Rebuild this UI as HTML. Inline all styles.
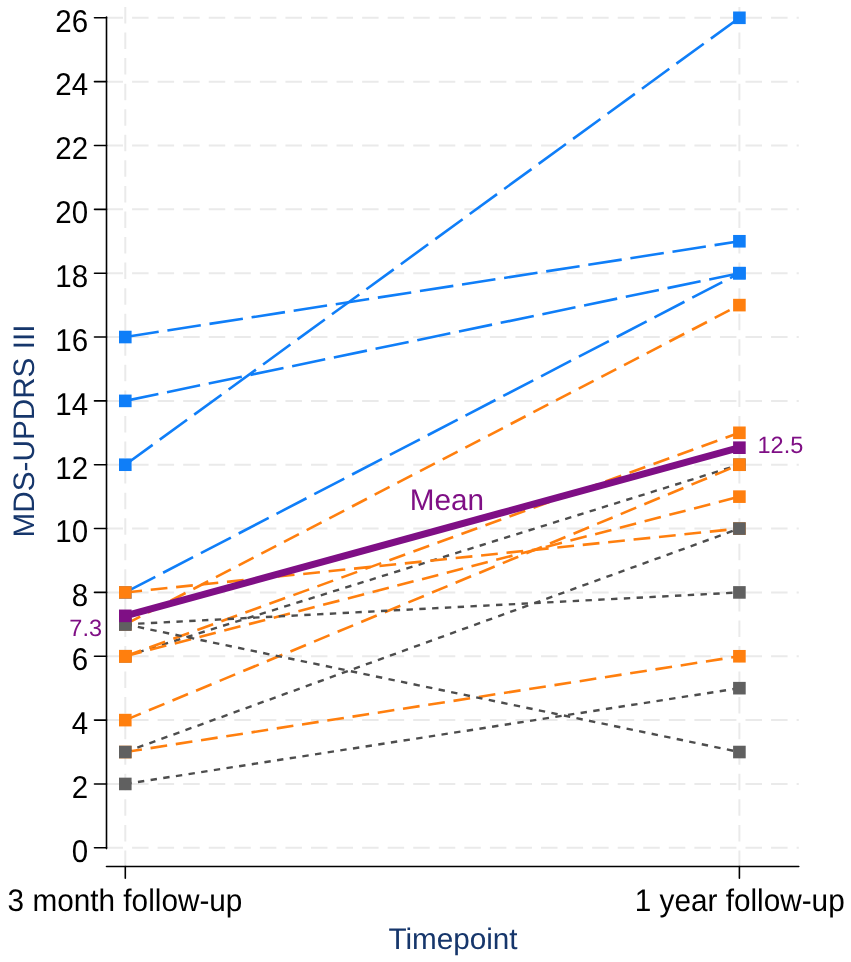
<!DOCTYPE html>
<html><head><meta charset="utf-8"><title>chart</title>
<style>
html,body{margin:0;padding:0;background:#fff;}
body{width:851px;height:962px;overflow:hidden;}
svg{display:block;will-change:transform;}
text{text-rendering:geometricPrecision;}
text{font-family:"Liberation Sans",sans-serif;}
</style></head><body>
<svg width="851" height="962" viewBox="0 0 851 962">
<rect width="851" height="962" fill="#ffffff"/>
<g stroke="#eaeaea" stroke-width="2" stroke-dasharray="16.5 9.06" fill="none">
<line x1="106.5" y1="847.80" x2="798.8" y2="847.80"/>
<line x1="106.5" y1="783.95" x2="798.8" y2="783.95"/>
<line x1="106.5" y1="720.11" x2="798.8" y2="720.11"/>
<line x1="106.5" y1="656.26" x2="798.8" y2="656.26"/>
<line x1="106.5" y1="592.42" x2="798.8" y2="592.42"/>
<line x1="106.5" y1="528.57" x2="798.8" y2="528.57"/>
<line x1="106.5" y1="464.72" x2="798.8" y2="464.72"/>
<line x1="106.5" y1="400.88" x2="798.8" y2="400.88"/>
<line x1="106.5" y1="337.03" x2="798.8" y2="337.03"/>
<line x1="106.5" y1="273.19" x2="798.8" y2="273.19"/>
<line x1="106.5" y1="209.34" x2="798.8" y2="209.34"/>
<line x1="106.5" y1="145.49" x2="798.8" y2="145.49"/>
<line x1="106.5" y1="81.65" x2="798.8" y2="81.65"/>
<line x1="106.5" y1="17.80" x2="798.8" y2="17.80"/>
<line x1="125.3" y1="7.0" x2="125.3" y2="866.5"/>
<line x1="739.4" y1="7.0" x2="739.4" y2="866.5"/>
</g>
<g stroke="#000" stroke-width="1.6" fill="none" stroke-linecap="round">
<line x1="106.5" y1="17.00" x2="106.5" y2="848.60"/>
<line x1="94.5" y1="847.80" x2="106.5" y2="847.80"/>
<line x1="94.5" y1="783.95" x2="106.5" y2="783.95"/>
<line x1="94.5" y1="720.11" x2="106.5" y2="720.11"/>
<line x1="94.5" y1="656.26" x2="106.5" y2="656.26"/>
<line x1="94.5" y1="592.42" x2="106.5" y2="592.42"/>
<line x1="94.5" y1="528.57" x2="106.5" y2="528.57"/>
<line x1="94.5" y1="464.72" x2="106.5" y2="464.72"/>
<line x1="94.5" y1="400.88" x2="106.5" y2="400.88"/>
<line x1="94.5" y1="337.03" x2="106.5" y2="337.03"/>
<line x1="94.5" y1="273.19" x2="106.5" y2="273.19"/>
<line x1="94.5" y1="209.34" x2="106.5" y2="209.34"/>
<line x1="94.5" y1="145.49" x2="106.5" y2="145.49"/>
<line x1="94.5" y1="81.65" x2="106.5" y2="81.65"/>
<line x1="94.5" y1="17.80" x2="106.5" y2="17.80"/>
<line x1="106.5" y1="866.5" x2="798.8" y2="866.5"/>
<line x1="125.3" y1="866.5" x2="125.3" y2="878.3"/>
<line x1="739.4" y1="866.5" x2="739.4" y2="878.3"/>
</g>
<g font-size="29.5" fill="#000" text-anchor="end">
<text transform="translate(88.2 861.60) scale(1 1.07)">0</text>
<text transform="translate(88.2 797.75) scale(1 1.07)">2</text>
<text transform="translate(88.2 733.91) scale(1 1.07)">4</text>
<text transform="translate(88.2 670.06) scale(1 1.07)">6</text>
<text transform="translate(88.2 606.22) scale(1 1.07)">8</text>
<text transform="translate(88.2 542.37) scale(1 1.07)">10</text>
<text transform="translate(88.2 478.52) scale(1 1.07)">12</text>
<text transform="translate(88.2 414.68) scale(1 1.07)">14</text>
<text transform="translate(88.2 350.83) scale(1 1.07)">16</text>
<text transform="translate(88.2 286.99) scale(1 1.07)">18</text>
<text transform="translate(88.2 223.14) scale(1 1.07)">20</text>
<text transform="translate(88.2 159.29) scale(1 1.07)">22</text>
<text transform="translate(88.2 95.45) scale(1 1.07)">24</text>
<text transform="translate(88.2 31.60) scale(1 1.07)">26</text>
</g>
<g font-size="29.75" fill="#000" text-anchor="middle">
<text transform="translate(125.0 910.7) scale(1 1.05)">3 month follow-up</text>
<text transform="translate(739.6999999999999 910.7) scale(1 1.05)">1 year follow-up</text>
</g>
<text x="453" y="948.6" font-size="29.7" fill="#16366b" text-anchor="middle">Timepoint</text>
<text transform="translate(33.9 431) rotate(-90)" font-size="29.7" fill="#16366b" text-anchor="middle">MDS-UPDRS III</text>
<line x1="125.3" y1="337.03" x2="739.4" y2="241.26" stroke="#0f7ef8" stroke-width="2.6" stroke-dasharray="33.8 8.8" fill="none"/>
<rect x="119.00" y="330.73" width="12.6" height="12.6" fill="#0f7ef8"/>
<rect x="733.10" y="234.96" width="12.6" height="12.6" fill="#0f7ef8"/>
<line x1="125.3" y1="400.88" x2="739.4" y2="273.19" stroke="#0f7ef8" stroke-width="2.6" stroke-dasharray="33.8 8.8" fill="none"/>
<rect x="119.00" y="394.58" width="12.6" height="12.6" fill="#0f7ef8"/>
<rect x="733.10" y="266.89" width="12.6" height="12.6" fill="#0f7ef8"/>
<line x1="125.3" y1="464.72" x2="739.4" y2="17.80" stroke="#0f7ef8" stroke-width="2.6" stroke-dasharray="33.8 8.8" fill="none"/>
<rect x="119.00" y="458.42" width="12.6" height="12.6" fill="#0f7ef8"/>
<rect x="733.10" y="11.50" width="12.6" height="12.6" fill="#0f7ef8"/>
<line x1="125.3" y1="592.42" x2="739.4" y2="273.19" stroke="#0f7ef8" stroke-width="2.6" stroke-dasharray="33.8 8.8" fill="none"/>
<rect x="119.00" y="586.12" width="12.6" height="12.6" fill="#0f7ef8"/>
<rect x="733.10" y="266.89" width="12.6" height="12.6" fill="#0f7ef8"/>
<line x1="125.3" y1="656.26" x2="739.4" y2="464.72" stroke="#4d4d4d" stroke-width="2.4" stroke-dasharray="6.4 6.4" fill="none"/>
<rect x="119.00" y="649.96" width="12.6" height="12.6" fill="#606060"/>
<rect x="733.10" y="458.42" width="12.6" height="12.6" fill="#606060"/>
<line x1="125.3" y1="592.42" x2="739.4" y2="528.57" stroke="#ff7f0e" stroke-width="2.6" stroke-dasharray="16.8 8.75" fill="none"/>
<rect x="119.00" y="586.12" width="12.6" height="12.6" fill="#ff7f0e"/>
<rect x="733.10" y="522.27" width="12.6" height="12.6" fill="#ff7f0e"/>
<line x1="125.3" y1="624.34" x2="739.4" y2="305.11" stroke="#ff7f0e" stroke-width="2.6" stroke-dasharray="16.8 8.75" fill="none"/>
<rect x="119.00" y="618.04" width="12.6" height="12.6" fill="#ff7f0e"/>
<rect x="733.10" y="298.81" width="12.6" height="12.6" fill="#ff7f0e"/>
<line x1="125.3" y1="656.26" x2="739.4" y2="432.80" stroke="#ff7f0e" stroke-width="2.6" stroke-dasharray="16.8 8.75" fill="none"/>
<rect x="119.00" y="649.96" width="12.6" height="12.6" fill="#ff7f0e"/>
<rect x="733.10" y="426.50" width="12.6" height="12.6" fill="#ff7f0e"/>
<line x1="125.3" y1="656.26" x2="739.4" y2="496.65" stroke="#ff7f0e" stroke-width="2.6" stroke-dasharray="16.8 8.75" fill="none"/>
<rect x="119.00" y="649.96" width="12.6" height="12.6" fill="#ff7f0e"/>
<rect x="733.10" y="490.35" width="12.6" height="12.6" fill="#ff7f0e"/>
<line x1="125.3" y1="720.11" x2="739.4" y2="464.72" stroke="#ff7f0e" stroke-width="2.6" stroke-dasharray="16.8 8.75" fill="none"/>
<rect x="119.00" y="713.81" width="12.6" height="12.6" fill="#ff7f0e"/>
<rect x="733.10" y="458.42" width="12.6" height="12.6" fill="#ff7f0e"/>
<line x1="125.3" y1="752.03" x2="739.4" y2="656.26" stroke="#ff7f0e" stroke-width="2.6" stroke-dasharray="16.8 8.75" fill="none"/>
<rect x="119.00" y="745.73" width="12.6" height="12.6" fill="#ff7f0e"/>
<rect x="733.10" y="649.96" width="12.6" height="12.6" fill="#ff7f0e"/>
<line x1="125.3" y1="624.34" x2="739.4" y2="592.42" stroke="#4d4d4d" stroke-width="2.4" stroke-dasharray="6.4 6.4" fill="none"/>
<rect x="119.00" y="618.04" width="12.6" height="12.6" fill="#606060"/>
<rect x="733.10" y="586.12" width="12.6" height="12.6" fill="#606060"/>
<line x1="125.3" y1="624.34" x2="739.4" y2="752.03" stroke="#4d4d4d" stroke-width="2.4" stroke-dasharray="6.4 6.4" fill="none"/>
<rect x="119.00" y="618.04" width="12.6" height="12.6" fill="#606060"/>
<rect x="733.10" y="745.73" width="12.6" height="12.6" fill="#606060"/>
<line x1="125.3" y1="752.03" x2="739.4" y2="528.57" stroke="#4d4d4d" stroke-width="2.4" stroke-dasharray="6.4 6.4" fill="none"/>
<rect x="119.00" y="745.73" width="12.6" height="12.6" fill="#606060"/>
<rect x="733.10" y="522.27" width="12.6" height="12.6" fill="#606060"/>
<line x1="125.3" y1="783.95" x2="739.4" y2="688.18" stroke="#4d4d4d" stroke-width="2.4" stroke-dasharray="6.4 6.4" fill="none"/>
<rect x="119.00" y="777.65" width="12.6" height="12.6" fill="#606060"/>
<rect x="733.10" y="681.88" width="12.6" height="12.6" fill="#606060"/>
<line x1="125.3" y1="615.83" x2="739.4" y2="447.70" stroke="#7f0f85" stroke-width="7" fill="none"/>
<rect x="119.00" y="609.53" width="12.6" height="12.6" fill="#7f0f85"/>
<rect x="733.10" y="441.40" width="12.6" height="12.6" fill="#7f0f85"/>
<text x="447" y="510" font-size="29.7" fill="#7f0f85" text-anchor="middle">Mean</text>
<text x="102" y="635.6" font-size="23.5" fill="#7f0f85" text-anchor="end">7.3</text>
<text x="757.5" y="453" font-size="23.5" fill="#7f0f85" text-anchor="start">12.5</text>
</svg>
</body></html>
